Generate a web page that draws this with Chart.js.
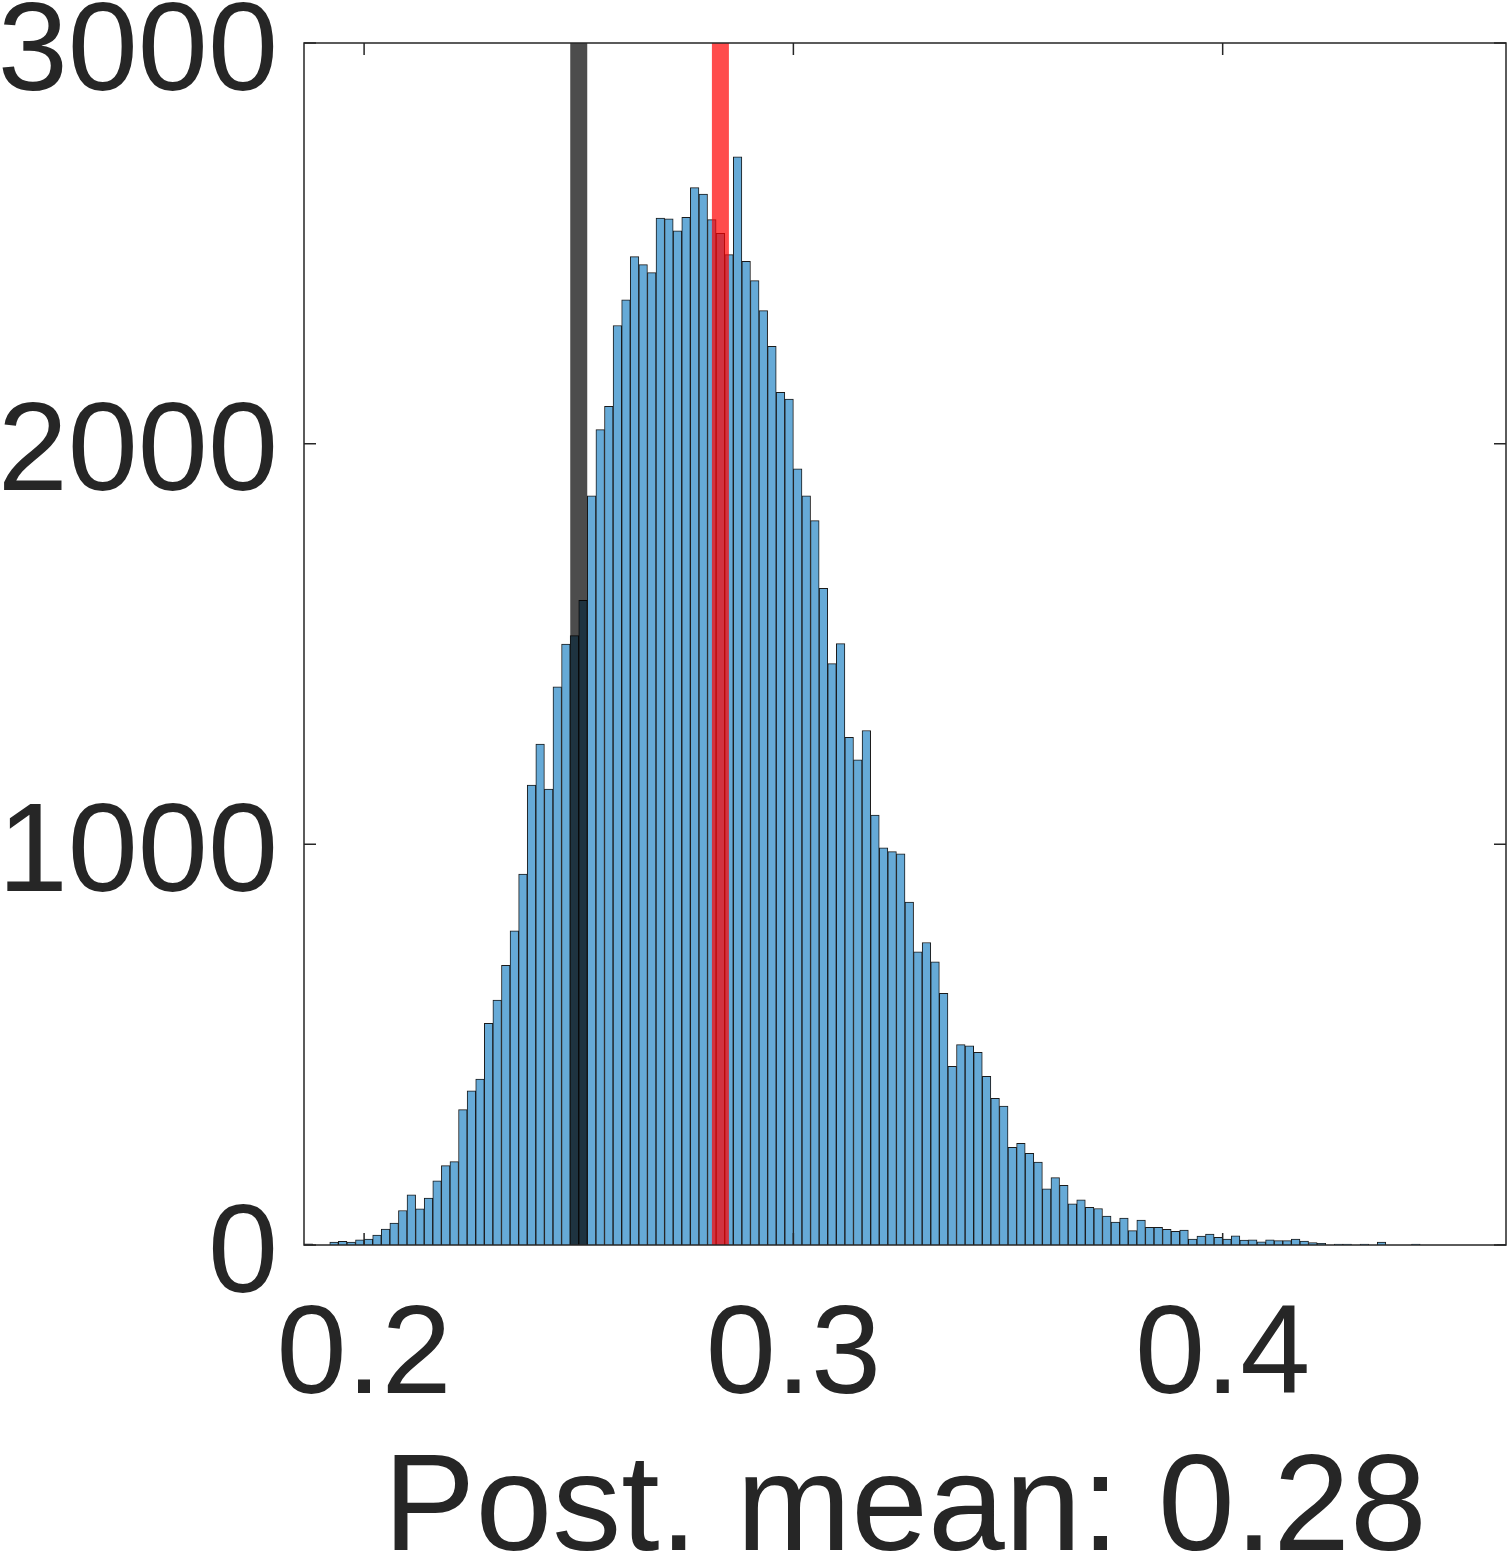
<!DOCTYPE html>
<html>
<head>
<meta charset="utf-8">
<script src="https://cdn.jsdelivr.net/npm/chart.js@4.4.1/dist/chart.umd.min.js"></script>
<style>
  html, body { margin: 0; padding: 0; background: #fff; }
  #wrap { width: 1507px; height: 1556px; }
</style>
</head>
<body>
<div id="wrap"><canvas id="hist"></canvas></div>
<script>
// histogram bins: 0.186 .. 0.466, width 0.002
const binStart = 0.186;
const binWidth = 0.002;
const counts = [
  3, 0, 0, 7, 9, 7, 13, 15, 25, 40,
  55, 86, 125, 90, 117, 160, 198, 208, 338, 385,
  414, 553, 611, 698, 784, 926, 1148, 1250, 1138, 1393,
  1500, 1521, 1609, 1870, 2035, 2093, 2295, 2359, 2467, 2447,
  2427, 2563, 2561, 2531, 2565, 2639, 2623, 2559, 2525, 2472,
  2716, 2455, 2407, 2332, 2243, 2128, 2111, 1937, 1870, 1808,
  1639, 1451, 1501, 1267, 1211, 1284, 1073, 991, 982, 976,
  856, 732, 755, 707, 628, 446, 500, 497, 481, 421,
  366, 347, 244, 254, 229, 207, 140, 168, 149, 103,
  113, 94, 91, 72, 57, 67, 36, 62, 44, 44,
  39, 34, 37, 15, 22, 27, 19, 15, 23, 12,
  13, 8, 13, 11, 11, 15, 10, 6, 4, 0,
  2, 2, 0, 2, 0, 7, 0, 0, 0, 2,
  0, 0, 0, 0, 0, 0, 0, 0, 0, 1
];

// vertical reference lines (true value, posterior mean)
const refLines = [0.25, 0.283];
const refColors = ["rgba(0,0,0,0.7)", "rgba(255,0,0,0.7)"];

const xTicks = [0.2, 0.3, 0.4];
const yTicks = [0, 1000, 2000, 3000];
const xTitle = "Post. mean: 0.28";

const textColor = "#262626";
const fontFamily = "'Liberation Sans', Arial, Helvetica, sans-serif";
const tickLen = 12;

const barData = counts.map((c, i) => ({ x: binStart + binWidth * (i + 0.5), y: c }));

const datasets = [
  {
    type: "bar",
    data: barData,
    backgroundColor: "#66aad7",
    borderColor: "#1a1a1a",
    borderWidth: 1,
    barPercentage: 1,
    categoryPercentage: 1,
    order: 2,
  },
];

refLines.forEach((v, i) => {
  datasets.push({
    type: "line",
    data: [{ x: v, y: yTicks[0] }, { x: v, y: yTicks[yTicks.length - 1] }],
    borderColor: refColors[i],
    borderWidth: 17,
    borderCapStyle: "butt",
    pointRadius: 0,
    fill: false,
    order: 1,
  });
});

// box + inward ticks on all four sides
const framePlugin = {
  id: "frame",
  afterDatasetsDraw(chart) {
    const { ctx, chartArea: a, scales } = chart;
    ctx.save();
    ctx.strokeStyle = textColor;
    ctx.lineWidth = 1.5;
    ctx.beginPath();
    xTicks.forEach((v) => {
      const px = scales.x.getPixelForValue(v);
      ctx.moveTo(px, a.bottom);
      ctx.lineTo(px, a.bottom - tickLen);
      ctx.moveTo(px, a.top);
      ctx.lineTo(px, a.top + tickLen);
    });
    yTicks.forEach((v) => {
      const py = scales.y.getPixelForValue(v);
      ctx.moveTo(a.left, py);
      ctx.lineTo(a.left + tickLen, py);
      ctx.moveTo(a.right, py);
      ctx.lineTo(a.right - tickLen, py);
    });
    ctx.stroke();
    ctx.strokeRect(a.left, a.top, a.right - a.left, a.bottom - a.top);
    ctx.restore();
  },
};

new Chart(document.getElementById("hist"), {
  type: "bar",
  data: { datasets },
  options: {
    responsive: true,
    maintainAspectRatio: false,
    animation: false,
    devicePixelRatio: 1,
    layout: { padding: { top: 43, right: 1, left: 0, bottom: 0 } },
    plugins: {
      legend: { display: false },
      tooltip: { enabled: false },
    },
    scales: {
      x: {
        type: "linear",
        offset: false,
        min: binStart,
        max: binStart + binWidth * counts.length,
        grid: { display: false, drawTicks: false },
        border: { display: false },
        afterBuildTicks: (s) => { s.ticks = xTicks.map((v) => ({ value: v })); },
        afterFit: (s) => { s.height = 311; s.paddingLeft = 0; s.paddingRight = 0; },
        ticks: {
          color: textColor,
          padding: 38,
          maxRotation: 0,
          font: { family: fontFamily, size: 126 },
          callback: (v) => v.toFixed(1),
        },
        title: {
          display: true,
          text: xTitle,
          color: textColor,
          padding: { top: 0, bottom: -39 },
          font: { family: fontFamily, size: 138 },
        },
      },
      y: {
        min: yTicks[0],
        max: yTicks[yTicks.length - 1],
        grid: { display: false, drawTicks: false },
        border: { display: false },
        afterBuildTicks: (s) => { s.ticks = yTicks.map((v) => ({ value: v })); },
        afterFit: (s) => { s.width = 304; s.paddingTop = 0; s.paddingBottom = 0; },
        ticks: {
          color: textColor,
          padding: 26,
          labelOffset: 12,
          font: { family: fontFamily, size: 126 },
          callback: (v) => String(v),
        },
      },
    },
  },
  plugins: [framePlugin],
});
</script>
</body>
</html>
